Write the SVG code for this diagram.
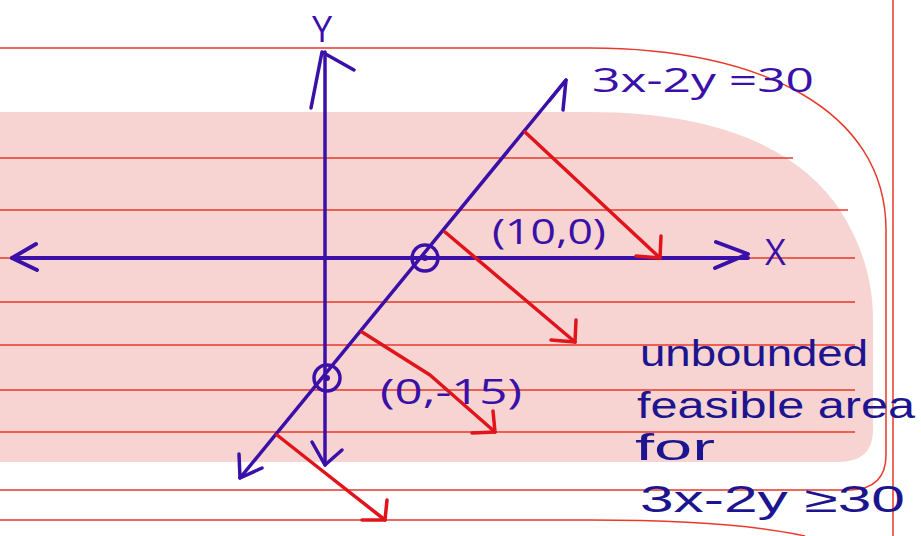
<svg xmlns="http://www.w3.org/2000/svg" width="921" height="536" viewBox="0 0 921 536">
<style>
.rule{stroke:#e8392b;stroke-width:1.5;fill:none}
.ax{stroke:#3a10a8;stroke-width:4;fill:none;stroke-linecap:round;stroke-linejoin:round}
.ax2{stroke:#3a10a8;stroke-width:3.5;fill:none;stroke-linecap:round;stroke-linejoin:round}
.ra{stroke:#e0141a;stroke-width:3.5;fill:none;stroke-linecap:round;stroke-linejoin:round}
.t{font-family:"Open Sans","Liberation Sans",sans-serif;fill:#3a10a8}
.n{font-family:"Liberation Sans",sans-serif;fill:#1d1590}
</style>
<rect width="921" height="536" fill="#ffffff"/>
<g id="paper">
<path d="M0,112 H590 C720,112 800,150 840,210 C862,245 873,280 873,320 V430 Q873,462 838,462 H0 Z" fill="#f7d4d2"/>
<path class="rule" d="M0,48 H590 C760,48 886,110 886,230 V455 Q886,489 850,490 H0"/>
<path class="rule" d="M0,520 H590 C690,520 760,526 805,536"/>
<line class="rule" x1="893" y1="0" x2="893" y2="536"/>
<line class="rule" x1="0" y1="158" x2="793" y2="158"/>
<line class="rule" x1="0" y1="210" x2="848" y2="210"/>
<line class="rule" x1="0" y1="258" x2="855" y2="258"/>
<line class="rule" x1="0" y1="302" x2="855" y2="302"/>
<line class="rule" x1="0" y1="345" x2="855" y2="345"/>
<line class="rule" x1="0" y1="390" x2="855" y2="390"/>
<line class="rule" x1="0" y1="432" x2="855" y2="432"/>
</g>
<g id="connectors">
<g id="y-axis">
<line class="ax2" x1="325" y1="52" x2="325" y2="465"/>
<polyline class="ax2" points="311,108 322,52 354,70"/>
<polyline class="ax2" points="312,442 325,465 342,450"/>
</g>
<g id="x-axis">
<line class="ax" x1="12" y1="258" x2="748" y2="258"/>
<polyline class="ax" points="36,244 12,258 37,270"/>
<polyline class="ax" points="716,242 748,254 715,268"/>
</g>
<g id="line">
<line class="ax2" x1="240" y1="478" x2="566" y2="80"/>
<polyline class="ax2" points="549,101 566,80 563,110"/>
<polyline class="ax2" points="239,454 240,478 262,468"/>
</g>
<g id="arrows">
<line class="ra" x1="525" y1="132" x2="660" y2="258"/>
<polyline class="ra" points="636,256 660,258 661,236"/>
<line class="ra" x1="445" y1="232" x2="575" y2="342"/>
<polyline class="ra" points="551,340 575,342 576,320"/>
<polyline class="ra" points="362,332 430,375 495,432"/>
<polyline class="ra" points="472,433 495,432 493,411"/>
<polyline class="ra" points="277,435 315,465 385,520"/>
<polyline class="ra" points="362,520 385,520 387,500"/>
</g>
</g>
<g id="point-10-0">
<circle cx="425" cy="258" r="13" fill="none" stroke="#3a10a8" stroke-width="3.5"/>
<circle cx="425" cy="258" r="3" fill="#3a10a8"/>
<text class="t" x="492" y="244" font-size="34" textLength="114" lengthAdjust="spacingAndGlyphs">(10,0)</text>
</g>
<g id="point-0-15">
<circle cx="327" cy="378" r="13" fill="none" stroke="#3a10a8" stroke-width="3.5"/>
<circle cx="327" cy="378" r="3" fill="#3a10a8"/>
<text class="t" x="380" y="404" font-size="34" textLength="142" lengthAdjust="spacingAndGlyphs">(0,-15)</text>
</g>
<g id="labels">
<text class="t" x="312" y="42" font-size="36">Y</text>
<text class="t" x="765" y="265" font-size="36">X</text>
<text class="t" x="592" y="92" font-size="32" textLength="222" lengthAdjust="spacingAndGlyphs">3x-2y =30</text>
<text class="n" x="640" y="366" font-size="36" textLength="228" lengthAdjust="spacingAndGlyphs">unbounded</text>
<text class="n" x="637" y="418" font-size="36" textLength="278" lengthAdjust="spacingAndGlyphs">feasible area</text>
<text class="n" x="635" y="460" font-size="36" textLength="80" lengthAdjust="spacingAndGlyphs">for</text>
<text class="n" x="640" y="512" font-size="36" textLength="265" lengthAdjust="spacingAndGlyphs">3x-2y ≥30</text>
</g>
</svg>
